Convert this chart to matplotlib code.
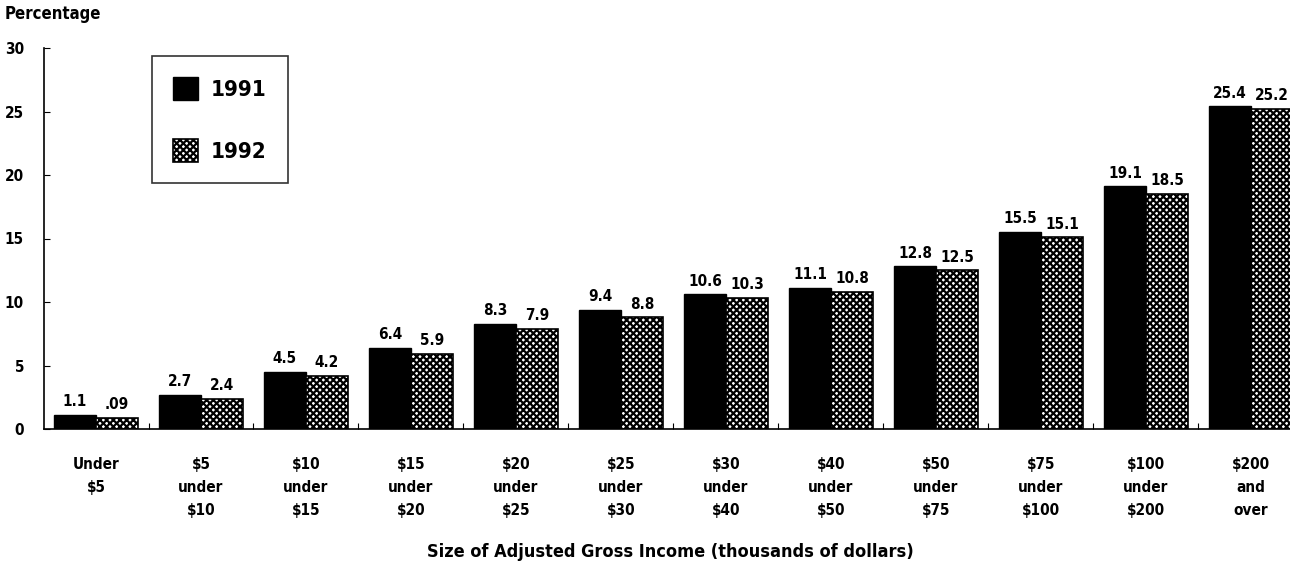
import matplotlib.pyplot as plt
import numpy as np

# income size classes and percentages
categories = ["Under\n$5", "$5\nunder\n$10", "$10\nunder\n$15", "$15\nunder\n$20",
              "$20\nunder\n$25", "$25\nunder\n$30", "$30\nunder\n$40", "$40\nunder\n$50",
              "$50\nunder\n$75", "$75\nunder\n$100", "$100\nunder\n$200", "$200\nand\nover"]
values_1991 = [1.1, 2.7, 4.5, 6.4, 8.3, 9.4, 10.6, 11.1, 12.8, 15.5, 19.1, 25.4]
values_1992 = [0.9, 2.4, 4.2, 5.9, 7.9, 8.8, 10.3, 10.8, 12.5, 15.1, 18.5, 25.2]
labels_1991 = ["1.1", "2.7", "4.5", "6.4", "8.3", "9.4", "10.6", "11.1", "12.8", "15.5", "19.1", "25.4"]
labels_1992 = [".09", "2.4", "4.2", "5.9", "7.9", "8.8", "10.3", "10.8", "12.5", "15.1", "18.5", "25.2"]
yticks = [0, 5, 10, 15, 20, 25, 30]

plt.rcParams['font.family'] = ['DejaVu Sans']
plt.rcParams['font.stretch'] = 'condensed'
plt.rcParams['font.weight'] = 'bold'
plt.rcParams['hatch.linewidth'] = 1.6

fig = plt.figure(figsize=(12.9, 5.66), dpi=100)
# axes spans slightly past the right edge, like the scanned original
ax = fig.add_axes([43.5 / 1290, 1 - 429 / 566, 1260 / 1290, (429 - 48) / 566])

x = np.arange(len(categories))
w = 0.4
ax.bar(x - w / 2, values_1991, w, color='black', edgecolor='black', label='1991')
ax.bar(x + w / 2, values_1992, w, color='white', edgecolor='black', hatch='xxxxx',
       linewidth=1.2, label='1992')

for xi, v, s in zip(x, values_1991, labels_1991):
    ax.text(xi - w / 2, v + 0.45, s, ha='center', va='bottom', fontsize=11, fontweight='bold')
for xi, v, s in zip(x, values_1992, labels_1992):
    ax.text(xi + w / 2, v + 0.45, s, ha='center', va='bottom', fontsize=11, fontweight='bold')

ax.set_xlim(-0.5, len(categories) - 0.5)
ax.set_ylim(0, 30)
ax.set_yticks(yticks)
ax.set_yticklabels([str(t) for t in yticks], fontsize=11, fontweight='bold')
ax.tick_params(axis='y', direction='in', length=4, pad=14)

# category boundaries get small ticks, labels go in the middle
ax.set_xticks(np.arange(len(categories) - 1) + 0.5)
ax.set_xticklabels([])
ax.tick_params(axis='x', direction='in', length=4)
for xi, c in zip(x, categories):
    ax.text(xi, -2.2, c, ha='center', va='top', fontsize=11, fontweight='bold',
            linespacing=1.65, transform=ax.transData)

for s in ['top', 'right']:
    ax.spines[s].set_visible(False)
ax.spines['left'].set_linewidth(1.2)
ax.spines['bottom'].set_linewidth(1.2)

fig.text(5 / 1290, 1 - 14 / 566, "Percentage", ha='left', va='center', fontsize=12, fontweight='bold')
fig.text(670 / 1290, 1 - 552 / 566, "Size of Adjusted Gross Income (thousands of dollars)",
         ha='center', va='center', fontsize=13, fontweight='bold')

leg = ax.legend(loc='upper left', bbox_to_anchor=((152 - 43.5) / 1260, 1 - (56 - 48) / 381),
                fontsize=16, frameon=True, fancybox=False, edgecolor='black',
                handlelength=1.1, handleheight=1.2, labelspacing=1.75, borderpad=0.95,
                handletextpad=0.6, borderaxespad=0)
leg.get_frame().set_linewidth(1.2)
for t in leg.get_texts():
    t.set_fontweight('bold')

fig.savefig('out.png', dpi=100)
